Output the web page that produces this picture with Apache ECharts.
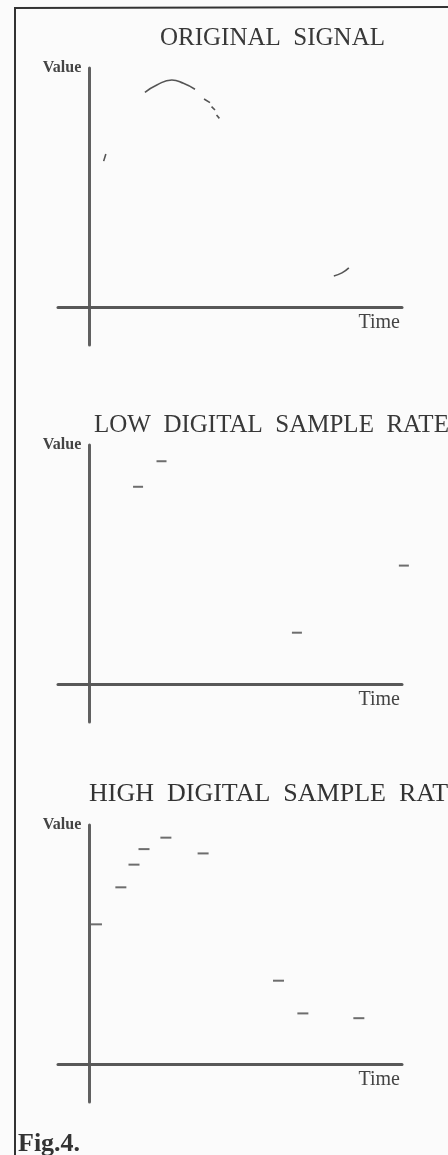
<!DOCTYPE html>
<html>
<head>
<meta charset="utf-8">
<script src="https://cdn.jsdelivr.net/npm/echarts@6/dist/echarts.min.js"></script>
<style>
	html, body { margin: 0; padding: 0; background: #fbfbfb; }
	#fig4 { width: 448px; height: 1155px; }
</style>
</head>
<body>
<div id="fig4"></div>
<script>
	// panel titles
	var panelTitles = ['ORIGINAL  SIGNAL', 'LOW  DIGITAL  SAMPLE  RATE', 'HIGH  DIGITAL  SAMPLE  RATE'];

	// original signal, only the parts still visible on the scan (null = faded gap)
	var origTime  = [4.6, 5.3, null, 17.8, 21.6, 26.4, 30.1, 33.8, null, 36.7, 38.6, null, 39.1, 40.2, null, 40.7, 41.6, null, 78.2, 80.8, 83.0];
	var origValue = [61, 64, null, 89.8, 92.9, 95.0, 93.6, 91.1, null, 87.0, 85.5, null, 83.8, 82.4, null, 80.3, 78.9, null, 12.9, 14.2, 16.3];

	// low sample rate
	var lowTime  = [15.6, 23.1, 66.4, 100.6];
	var lowValue = [82.5, 93.2, 21.4, 49.5];

	// high sample rate
	var highTime  = [2.3, 10.1, 14.3, 17.5, 24.5, 36.4, 60.5, 68.3, 86.2];
	var highValue = [58.4, 73.9, 83.4, 89.9, 94.7, 88.1, 34.8, 21.1, 19.1];

	function pairs(t, v) {
		return t.map(function (x, i) {
			return x === null ? ['-', '-'] : [x, v[i]];
		});
	}

	var ink = '#4a4a4a';
	var serif = '"Liberation Serif", "DejaVu Serif", serif';
	var gridTops = [68, 445, 825];

	var grids = [], xAxes = [], yAxes = [];
	gridTops.forEach(function (top, i) {
		grids.push({ left: 58, width: 344, top: top, height: 277 });
		xAxes.push({
			type: 'value', gridIndex: i, min: -10, max: 100,
			name: 'Time', nameLocation: 'end', nameGap: -2,
			nameTextStyle: { fontFamily: serif, fontSize: 20, color: '#444', align: 'right', verticalAlign: 'top', padding: [6, 0, 0, 0] },
			axisLine: { onZero: true, lineStyle: { color: '#585858', width: 3 } },
			axisTick: { show: false }, axisLabel: { show: false }, splitLine: { show: false }
		});
		yAxes.push({
			type: 'value', gridIndex: i, min: -16, max: 100,
			name: 'Value', nameLocation: 'end', nameGap: 0,
			nameTextStyle: { fontFamily: serif, fontSize: 16, fontWeight: 'bold', color: '#444', align: 'right', verticalAlign: 'middle', padding: [0, 8, 0, 0] },
			axisLine: { onZero: true, lineStyle: { color: '#606060', width: 3 } },
			axisTick: { show: false }, axisLabel: { show: false }, splitLine: { show: false }
		});
	});

	var titleStyle = { fontFamily: serif, fontSize: 25, fontWeight: 'normal', color: '#383838' };

	var chart = echarts.init(document.getElementById('fig4'));
	chart.setOption({
		backgroundColor: '#fbfbfb',
		animation: false,
		title: [
			{ text: panelTitles[0], left: 155, top: 21, textStyle: titleStyle },
			{ text: panelTitles[1], left: 89, top: 408, textStyle: titleStyle },
			{ text: panelTitles[2], left: 84, top: 776, textStyle: { fontFamily: serif, fontSize: 26, fontWeight: 'normal', color: '#333' } },
			{ text: 'Fig.4.', left: 13, top: 1126, textStyle: { fontFamily: serif, fontSize: 26, fontWeight: 'bold', color: '#333' } }
		],
		graphic: [
			{ type: 'line', shape: { x1: 15, y1: 8, x2: 15, y2: 1155 }, style: { stroke: '#333', lineWidth: 2 } },
			{ type: 'line', shape: { x1: 14, y1: 8, x2: 448, y2: 7 }, style: { stroke: '#333', lineWidth: 2 } }
		],
		grid: grids,
		xAxis: xAxes,
		yAxis: yAxes,
		series: [
			{
				type: 'line', xAxisIndex: 0, yAxisIndex: 0,
				data: pairs(origTime, origValue),
				smooth: true, showSymbol: false, connectNulls: false,
				lineStyle: { color: '#555', width: 1.6 }
			},
			{
				type: 'scatter', xAxisIndex: 1, yAxisIndex: 1, clip: false,
				data: pairs(lowTime, lowValue),
				symbol: 'rect', symbolSize: [10, 2],
				itemStyle: { color: ink }
			},
			{
				type: 'scatter', xAxisIndex: 2, yAxisIndex: 2, clip: false,
				data: pairs(highTime, highValue),
				symbol: 'rect', symbolSize: [11, 2],
				itemStyle: { color: ink }
			}
		]
	});
</script>
</body>
</html>
